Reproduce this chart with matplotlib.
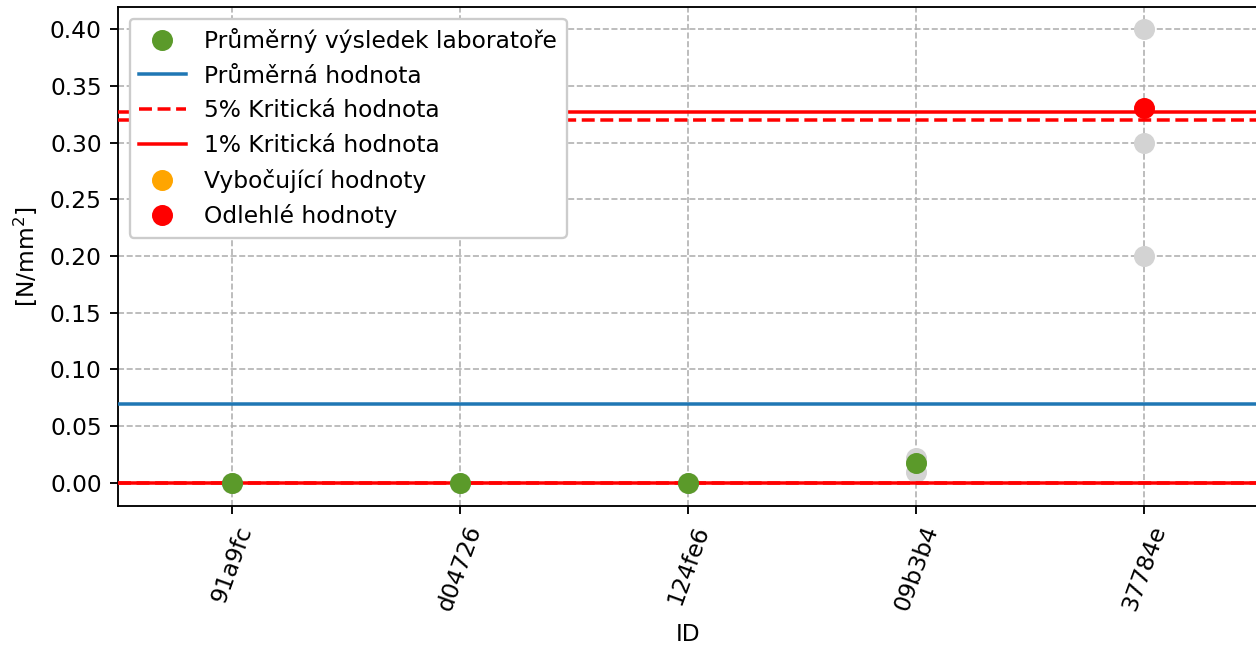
import matplotlib
matplotlib.use("Agg")
import matplotlib.pyplot as plt
import numpy as np

ids = ["91a9fc", "d04726", "124fe6", "09b3b4", "37784e"]
# individual results per laboratory (gray)
indiv_x = ["91a9fc", "91a9fc", "d04726", "d04726", "124fe6", "124fe6",
           "09b3b4", "09b3b4", "09b3b4", "37784e", "37784e", "37784e"]
indiv_y = [0.0, 0.0, 0.0, 0.0, 0.0, 0.0,
           0.01, 0.02, 0.022, 0.40, 0.30, 0.20]
lab_means = [0.0, 0.0, 0.0, 0.018, None]
straggler_x = []
straggler_y = []
outlier_x = ["37784e"]
outlier_y = [0.33]
grand_mean = 0.0696
crit5 = [0.0, 0.320]
crit1 = [0.0, 0.327]

DPI = 168
fig = plt.figure(figsize=(1256 / DPI, 650 / DPI), dpi=DPI)
ax = fig.add_axes([118 / 1256, 1 - 506 / 650, 1 - 118 / 1256 + 0.002, (506 - 7) / 650])

pos = {k: i for i, k in enumerate(ids)}
ax.plot([pos[k] for k in indiv_x], indiv_y, "o", color="lightgray",
        markersize=8, zorder=2)
mx = [i for i, v in enumerate(lab_means) if v is not None]
my = [v for v in lab_means if v is not None]
ax.plot(mx, my, "o", color="#5b9a2a", markersize=8, zorder=5,
        label="Průměrný výsledek laboratoře")
ax.axhline(grand_mean, color="tab:blue", lw=1.5, zorder=3, label="Průměrná hodnota")
ax.axhline(crit5[1], color="red", ls="--", lw=1.5, zorder=3, label="5% Kritická hodnota")
ax.axhline(crit5[0], color="red", ls="--", lw=1.5, zorder=3)
ax.axhline(crit1[1], color="red", ls="-", lw=1.5, zorder=3, label="1% Kritická hodnota")
ax.axhline(crit1[0], color="red", ls="-", lw=1.5, zorder=3)
ax.plot([pos[k] for k in straggler_x], straggler_y, "o", color="orange", markersize=8,
        zorder=6, label="Vybočující hodnoty")
ax.plot([pos[k] for k in outlier_x], outlier_y, "o", color="red", markersize=8,
        zorder=6, label="Odlehlé hodnoty")

ax.set_xlim(-0.5, 4.5)
ax.set_ylim(-0.0203, 0.4194)
ax.set_xticks(range(len(ids)))
ax.set_xticklabels(ids, rotation=70)
ax.set_yticks(np.arange(0, 0.41, 0.05))
ax.yaxis.set_major_formatter(matplotlib.ticker.FormatStrFormatter("%.2f"))
ax.grid(True, ls="--", color="#b0b0b0", lw=0.7)
ax.set_axisbelow(True)
ax.set_xlabel("ID")
ax.set_ylabel("[N/mm$^2$]")
leg = ax.legend(loc="upper left", framealpha=1)
leg.set_zorder(10)

fig.savefig("out.png", dpi=DPI)
